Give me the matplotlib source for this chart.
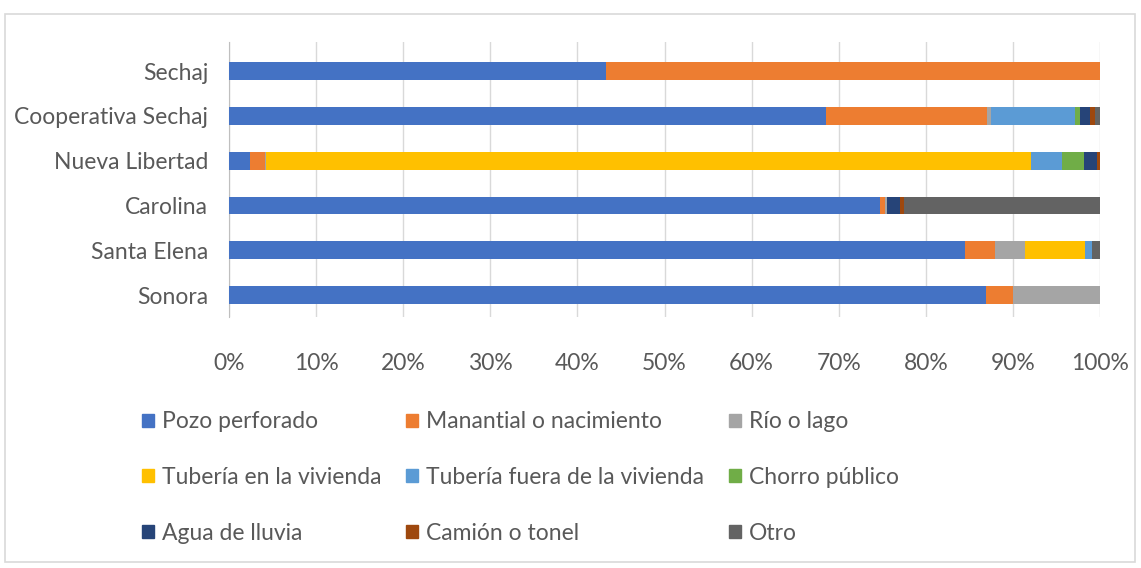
import matplotlib
matplotlib.use("Agg")
import matplotlib.pyplot as plt
from matplotlib.patches import Rectangle, Patch

plt.rcParams["font.family"] = ["Lato", "DejaVu Sans"]

communities = ["Sechaj", "Cooperativa Sechaj", "Nueva Libertad", "Carolina", "Santa Elena", "Sonora"]
sources = ["Pozo perforado", "Manantial o nacimiento", "Río o lago",
           "Tubería en la vivienda", "Tubería fuera de la vivienda", "Chorro público",
           "Agua de lluvia", "Camión o tonel", "Otro"]

# percent of households per source, one list per community (same order as sources)
sechaj = [43.3, 56.7, 0, 0, 0, 0, 0, 0, 0]
coop_sechaj = [68.5, 18.5, 0.5, 0, 9.6, 0.6, 1.1, 0.6, 0.6]
nueva_libertad = [2.4, 1.7, 0.2, 87.8, 3.5, 2.6, 1.5, 0.3, 0]
carolina = [74.7, 0.6, 0.3, 0, 0, 0, 1.4, 0.5, 22.5]
santa_elena = [84.5, 3.4, 3.5, 6.9, 0.8, 0, 0, 0, 0.9]
sonora = [86.9, 3.1, 10.0, 0, 0, 0, 0, 0, 0]

colors = ["#4472C4", "#ED7D31", "#A5A5A5", "#FFC000", "#5B9BD5",
          "#70AD47", "#264478", "#9E480E", "#636363"]
TXT = "#595959"

rows = [sechaj, coop_sechaj, nueva_libertad, carolina, santa_elena, sonora]

fig = plt.figure(figsize=(11.41, 5.68), dpi=100)
fig.patches.append(Rectangle((5 / 1141, 6 / 568), 1130 / 1141, 548 / 568,
                             transform=fig.transFigure, fill=False,
                             edgecolor="#d9d9d9", lw=1.2))
ax = fig.add_axes([229 / 1141, 1 - 317 / 568, 871 / 1141, 275 / 568])

ypos = list(range(len(communities)))[::-1]
for j, src in enumerate(sources):
    vals = [r[j] / sum(r) for r in rows]
    left = [sum(r[:j]) / sum(r) for r in rows]
    ax.barh(ypos, vals, left=left, height=0.4, color=colors[j], label=src, zorder=3)

ax.set_xlim(0, 1)
ax.set_ylim(-0.49, 5.65)
ax.set_xticks([i / 10 for i in range(11)])
ax.set_xticklabels([f"{i * 10}%" for i in range(11)])
ax.set_yticks(ypos)
ax.set_yticklabels(communities)
ax.grid(axis="x", color="#d9d9d9", lw=1, zorder=0)
for s in ("top", "right", "bottom"):
    ax.spines[s].set_visible(False)
ax.spines["left"].set_color("#bfbfbf")
ax.tick_params(axis="y", length=0, pad=15, labelsize=16.5, labelcolor=TXT)
ax.tick_params(axis="x", length=0, pad=26, labelsize=16.5, labelcolor=TXT)

# legend filled row by row like the original
order = [0, 3, 6, 1, 4, 7, 2, 5, 8]
handles = [Patch(color=colors[i]) for i in order]
labels = [sources[i] for i in order]
fig.legend(handles, labels, ncol=3, loc="upper left", bbox_to_anchor=(133 / 1141, 1 - 402 / 568),
           frameon=False, fontsize=16.5, labelcolor=TXT, handlelength=0.5, handleheight=0.5,
           handletextpad=0.35, columnspacing=1.1, labelspacing=1.52, borderaxespad=0)

fig.savefig("out.png", dpi=100, facecolor="white")
